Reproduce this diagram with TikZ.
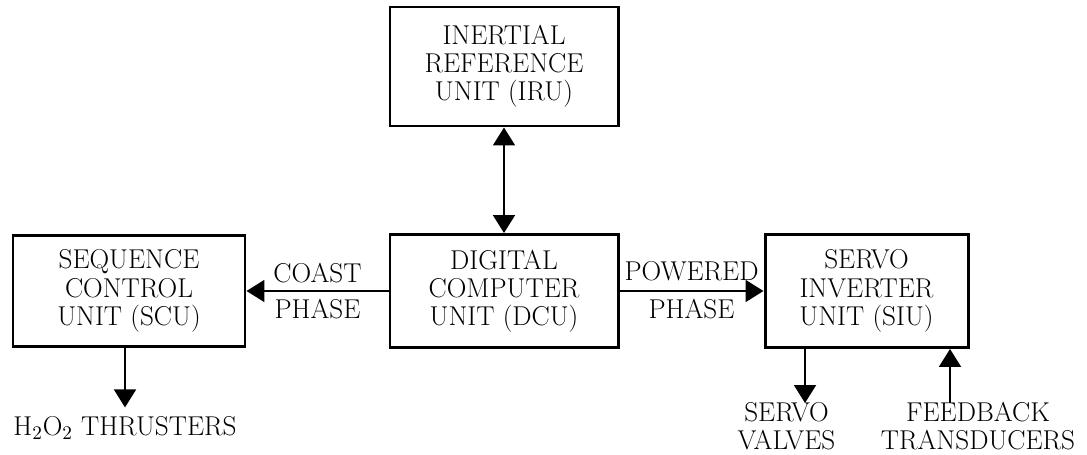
\documentclass[tikz,border=0pt]{standalone}
\usepackage{xcolor}
\usepackage{tikz}
\usetikzlibrary{arrows.meta,positioning}

\begin{document}
\begin{tikzpicture}[
    node distance=4.49cm,
    font=\fontsize{15.5}{16}\selectfont,
    box/.style={rectangle, draw, line width=1.7pt, minimum width=4.56cm, minimum height=2.26cm, align=center},
    arrow/.style={-{Triangle[length=0.36cm, width=0.44cm]}, line width=1.1pt},
    dblarrow/.style={{Triangle[length=0.36cm, width=0.44cm]}-{Triangle[length=0.36cm, width=0.44cm]}, line width=1.1pt},
    lbl/.style={align=center, inner sep=1pt}
]
    \useasboundingbox (0,0) rectangle (21.74,-9.10);

    \node[box] (dcu) at (10.08,-5.82) {DIGITAL\\COMPUTER\\UNIT (DCU)};
    \node[box, above of=dcu, minimum height=2.38cm] (iru) {INERTIAL\\REFERENCE\\UNIT (IRU)};
    \node[box, left of=dcu, node distance=7.5cm, minimum width=4.64cm, minimum height=2.22cm] (scu) {SEQUENCE\\CONTROL\\UNIT (SCU)};
    \node[box, right of=dcu, node distance=7.25cm, minimum width=4.06cm] (siu) {SERVO\\INVERTER\\UNIT (SIU)};

    \node[lbl] (thr) at (2.5,-8.56) {H$_2$O$_2$ THRUSTERS};
    \node[lbl] (valves) at (15.73,-8.52) {SERVO\\VALVES};
    \node[lbl] (fb) at (19.56,-8.52) {FEEDBACK\\TRANSDUCERS};
    \coordinate (vend) at (16.1,-8.06);
    \coordinate (fbstart) at (19.0,-8.06);

    \draw[dblarrow] (iru) -- (dcu);
    \draw[arrow] (dcu) -- node[lbl, above=3pt] {COAST} node[lbl, below=3pt] {PHASE} (scu);
    \draw[arrow] (dcu) -- node[lbl, above=4pt] {POWERED} node[lbl, below=3pt] {PHASE} (siu);
    \draw[arrow] (thr.north |- scu.south) -- ([yshift=4pt]thr.north);
    \draw[arrow] (vend |- siu.south) -- (vend);
    \draw[arrow] (fbstart) -- (fbstart |- siu.south);
\end{tikzpicture}
\end{document}
